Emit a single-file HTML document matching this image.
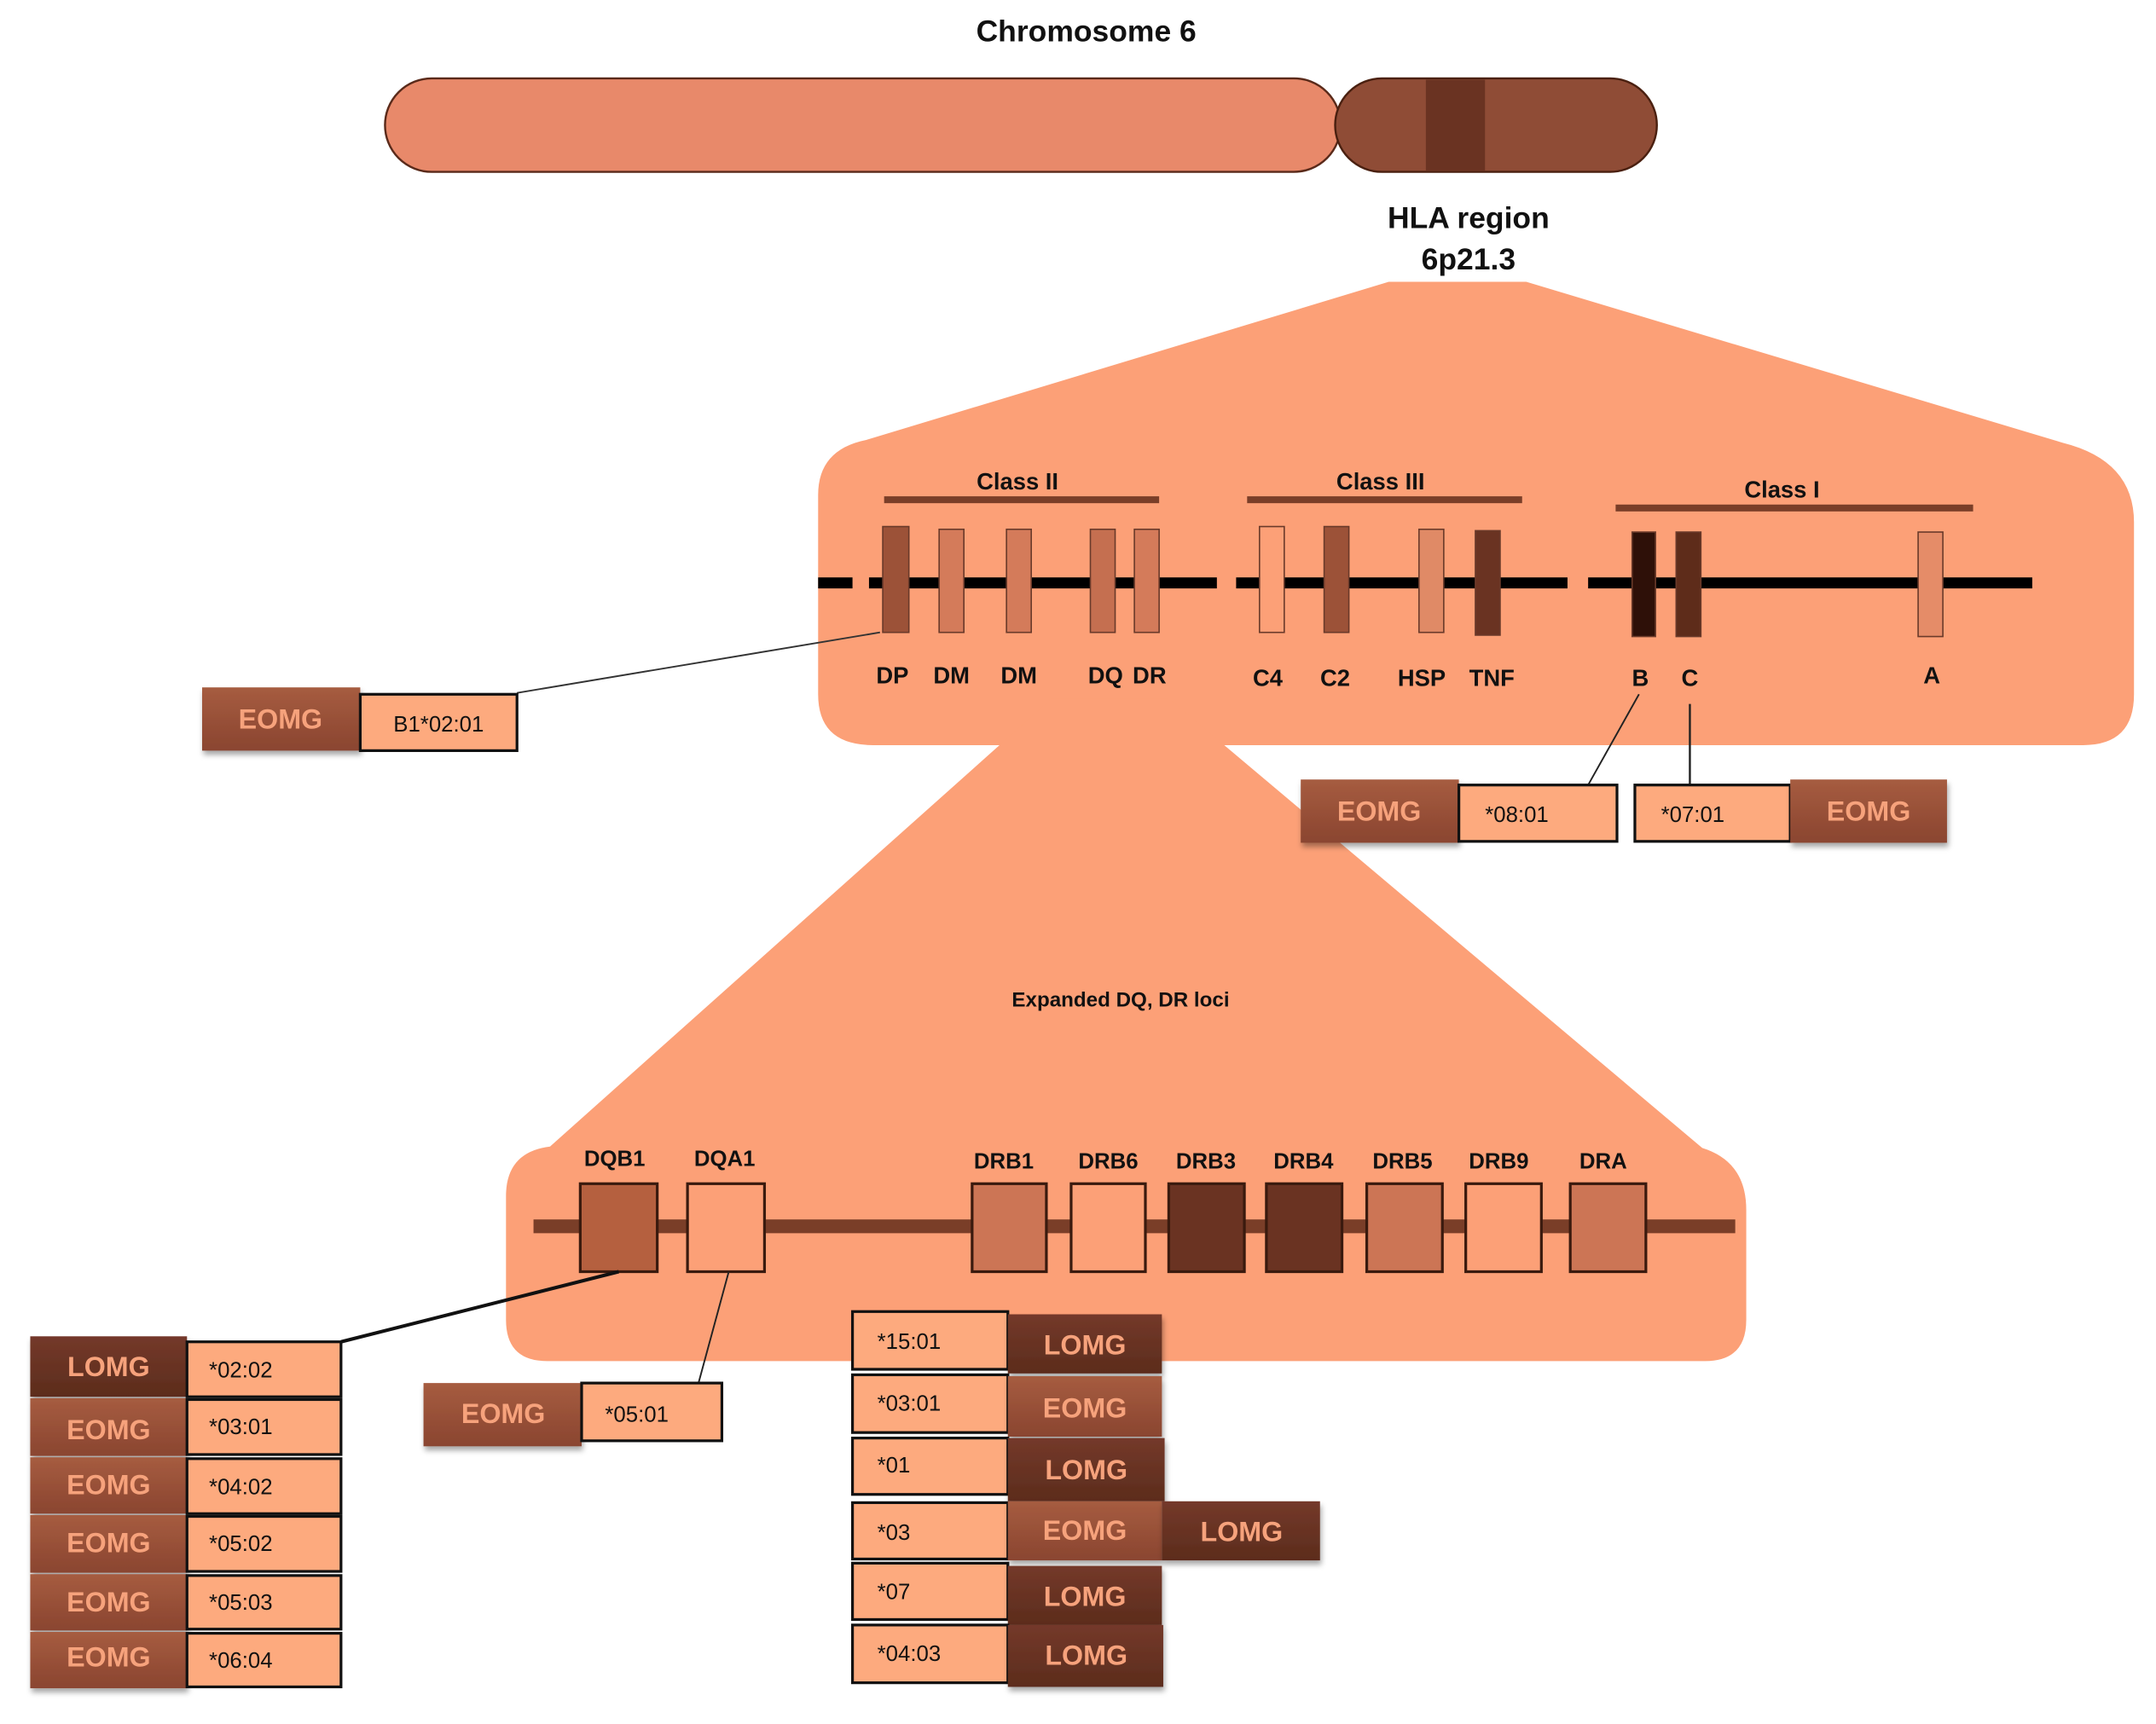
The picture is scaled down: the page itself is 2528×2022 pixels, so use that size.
<!DOCTYPE html>
<html><head><meta charset="utf-8"><style>
html,body{margin:0;padding:0;background:#fff;}
svg{display:block;}
text{font-family:"Liberation Sans",sans-serif;}
.lb{font-weight:bold;}
</style></head><body>
<svg width="2528" height="2022" viewBox="0 0 1568 1254" preserveAspectRatio="none" xmlns="http://www.w3.org/2000/svg">
<defs>
<linearGradient id="eo" x1="0" y1="0" x2="0" y2="1"><stop offset="0" stop-color="#A65C40"/><stop offset="1" stop-color="#8A4530"/></linearGradient>
<linearGradient id="lo" x1="0" y1="0" x2="0" y2="1"><stop offset="0" stop-color="#74392A"/><stop offset="1" stop-color="#5C2C1C"/></linearGradient>
<filter id="sh" x="-10%" y="-10%" width="130%" height="140%"><feDropShadow dx="1" dy="3" stdDeviation="2" flood-color="#000" flood-opacity="0.35"/></filter>
</defs>
<text x="790" y="30" font-size="22" font-weight="bold" text-anchor="middle" fill="#111">Chromosome 6</text>
<rect x="280" y="57" width="695" height="68" rx="34" fill="#E8896A" stroke="#5a2a1a" stroke-width="1.5"/>
<path d="M1005,57 H1171 A34,34 0 0 1 1171,125 H1005 A34,34 0 0 1 1005,57 Z" fill="#8F4C36" stroke="#4a2010" stroke-width="1.5"/>
<rect x="1037" y="58" width="43" height="66" fill="#6A3322"/>
<text x="1068" y="166" font-size="22" font-weight="bold" text-anchor="middle" fill="#111">HLA region</text>
<text x="1068" y="196" font-size="22" font-weight="bold" text-anchor="middle" fill="#111">6p21.3</text>

<path d="M1010,205 H1110 L1500,322 Q1552,335 1552,380 V505 Q1552,542 1515,542 H635 Q595,542 595,505 V360 Q595,327 630,320 Z" fill="#FCA077"/>
<g font-size="17" font-weight="bold" text-anchor="middle" fill="#111">
<text x="740" y="356">Class II</text><text x="1004" y="356">Class III</text><text x="1296" y="362">Class I</text>
</g>
<rect x="643" y="361" width="200" height="5" fill="#7A3E28"/>
<rect x="907" y="361" width="200" height="5" fill="#7A3E28"/>
<rect x="1175" y="367" width="260" height="5" fill="#7A3E28"/>
<g fill="#000"><rect x="595" y="420" width="25" height="8"/><rect x="632" y="420" width="253" height="8"/><rect x="899" y="420" width="241" height="8"/><rect x="1155" y="420" width="323" height="8"/></g>
<g stroke="#6a3a2a" stroke-width="1">
<rect x="642" y="383" width="19" height="77" fill="#9C5238"/>
<rect x="683" y="385" width="18" height="75" fill="#D47B5A"/>
<rect x="732" y="385" width="18" height="75" fill="#D47B5A"/>
<rect x="793" y="385" width="18" height="75" fill="#C56F50"/>
<rect x="825" y="385" width="18" height="75" fill="#D47B5A"/>
<rect x="916" y="383" width="18" height="77" fill="#FCA077"/>
<rect x="963" y="383" width="18" height="77" fill="#9C5238"/>
<rect x="1032" y="385" width="18" height="75" fill="#E08A66"/>
<rect x="1073" y="386" width="18" height="76" fill="#6A3322"/>
<rect x="1187" y="387" width="17" height="76" fill="#2E1008"/>
<rect x="1219" y="387" width="18" height="76" fill="#5E2C1A"/>
<rect x="1395" y="387" width="18" height="76" fill="#E58C68"/>
</g>
<g font-size="17" font-weight="bold" text-anchor="middle" fill="#111">
<text x="649" y="497">DP</text><text x="692" y="497">DM</text><text x="741" y="497">DM</text><text x="804" y="497">DQ</text><text x="836" y="497">DR</text>
<text x="922" y="499">C4</text><text x="971" y="499">C2</text><text x="1034" y="499">HSP</text><text x="1085" y="499">TNF</text>
<text x="1193" y="499">B</text><text x="1229" y="499">C</text><text x="1405" y="497">A</text>
</g>
<line x1="640" y1="460" x2="376" y2="504" stroke="#333" stroke-width="1.2"/>
<line x1="1192" y1="505" x2="1155" y2="571" stroke="#222" stroke-width="1.2"/>
<line x1="1229" y1="512" x2="1229" y2="571" stroke="#222" stroke-width="1.5"/>

<path d="M765,508 H850 L1238,835 Q1270,845 1270,880 V960 Q1270,990 1240,990 H398 Q368,990 368,960 V870 Q368,838 400,834 Z" fill="#FCA077"/>
<text x="815" y="732" font-size="15" font-weight="bold" text-anchor="middle" fill="#111">Expanded DQ, DR loci</text>
<rect x="388" y="887" width="874" height="10" fill="#7A3E28"/>
<g stroke="#3a1a0e" stroke-width="2">
<rect x="422" y="861" width="56" height="64" fill="#B5603F"/>
<rect x="500" y="861" width="56" height="64" fill="#FCA077"/>
<rect x="707" y="861" width="54" height="64" fill="#CC7555"/>
<rect x="779" y="861" width="54" height="64" fill="#FCA077"/>
<rect x="850" y="861" width="55" height="64" fill="#6A3322"/>
<rect x="921" y="861" width="55" height="64" fill="#6A3322"/>
<rect x="994" y="861" width="55" height="64" fill="#CC7555"/>
<rect x="1066" y="861" width="55" height="64" fill="#FCA077"/>
<rect x="1142" y="861" width="55" height="64" fill="#CC7555"/>
</g>
<g font-size="16" font-weight="bold" text-anchor="middle" fill="#111">
<text x="447" y="848">DQB1</text><text x="527" y="848">DQA1</text><text x="730" y="850">DRB1</text><text x="806" y="850">DRB6</text><text x="877" y="850">DRB3</text><text x="948" y="850">DRB4</text><text x="1020" y="850">DRB5</text><text x="1090" y="850">DRB9</text><text x="1166" y="850">DRA</text>
</g>
<line x1="450" y1="925" x2="248" y2="976" stroke="#111" stroke-width="2.5"/>
<line x1="530" y1="925" x2="508" y2="1006" stroke="#222" stroke-width="1.2"/>

<g font-size="16" fill="#111">
<rect x="147" y="500" width="115" height="46" fill="url(#eo)" filter="url(#sh)"/>
<rect x="262" y="505" width="114" height="41" fill="#FDAA7E" stroke="#111" stroke-width="2"/>
<text x="319" y="532" text-anchor="middle">B1*02:01</text>
<text class="lb" x="204" y="530" font-size="20" text-anchor="middle" fill="#F6A27C">EOMG</text>
<rect x="946" y="567" width="115" height="46" fill="url(#eo)" filter="url(#sh)"/>
<rect x="1061" y="571" width="115" height="41" fill="#FDAA7E" stroke="#111" stroke-width="2"/>
<text x="1080" y="598">*08:01</text>
<text class="lb" x="1003" y="597" font-size="20" text-anchor="middle" fill="#F6A27C">EOMG</text>
<rect x="1189" y="571" width="113" height="41" fill="#FDAA7E" stroke="#111" stroke-width="2"/>
<rect x="1302" y="567" width="114" height="46" fill="url(#eo)" filter="url(#sh)"/>
<text x="1208" y="598">*07:01</text>
<text class="lb" x="1359" y="597" font-size="20" text-anchor="middle" fill="#F6A27C">EOMG</text>
<rect x="308" y="1006" width="115" height="46" fill="url(#eo)" filter="url(#sh)"/>
<rect x="423" y="1006" width="102" height="42" fill="#FDAA7E" stroke="#111" stroke-width="2"/>
<text x="440" y="1034">*05:01</text>
<text class="lb" x="366" y="1035" font-size="20" text-anchor="middle" fill="#F6A27C">EOMG</text>
</g>

<g font-size="16" fill="#111">
<rect x="22" y="972" width="114" height="44" fill="url(#lo)" filter="url(#sh)"/>
<rect x="136" y="976" width="112" height="40" fill="#FDAA7E" stroke="#111" stroke-width="2"/>
<text x="152" y="1002">*02:02</text><text class="lb" x="79" y="1001" font-size="20" text-anchor="middle" fill="#F6A27C">LOMG</text>
<rect x="22" y="1017" width="114" height="42" fill="url(#eo)" filter="url(#sh)"/>
<rect x="136" y="1018" width="112" height="40" fill="#FDAA7E" stroke="#111" stroke-width="2"/>
<text x="152" y="1043">*03:01</text><text class="lb" x="79" y="1047" font-size="20" text-anchor="middle" fill="#F6A27C">EOMG</text>
<rect x="22" y="1060" width="114" height="41" fill="url(#eo)" filter="url(#sh)"/>
<rect x="136" y="1061" width="112" height="40" fill="#FDAA7E" stroke="#111" stroke-width="2"/>
<text x="152" y="1087">*04:02</text><text class="lb" x="79" y="1087" font-size="20" text-anchor="middle" fill="#F6A27C">EOMG</text>
<rect x="22" y="1102" width="114" height="42" fill="url(#eo)" filter="url(#sh)"/>
<rect x="136" y="1103" width="112" height="40" fill="#FDAA7E" stroke="#111" stroke-width="2"/>
<text x="152" y="1128">*05:02</text><text class="lb" x="79" y="1129" font-size="20" text-anchor="middle" fill="#F6A27C">EOMG</text>
<rect x="22" y="1145" width="114" height="41" fill="url(#eo)" filter="url(#sh)"/>
<rect x="136" y="1146" width="112" height="39" fill="#FDAA7E" stroke="#111" stroke-width="2"/>
<text x="152" y="1171">*05:03</text><text class="lb" x="79" y="1172" font-size="20" text-anchor="middle" fill="#F6A27C">EOMG</text>
<rect x="22" y="1187" width="114" height="41" fill="url(#eo)" filter="url(#sh)"/>
<rect x="136" y="1188" width="112" height="39" fill="#FDAA7E" stroke="#111" stroke-width="2"/>
<text x="152" y="1213">*06:04</text><text class="lb" x="79" y="1212" font-size="20" text-anchor="middle" fill="#F6A27C">EOMG</text>
</g>

<g font-size="16" fill="#111">
<rect x="620" y="954" width="113" height="42" fill="#FDAA7E" stroke="#111" stroke-width="2"/>
<rect x="733" y="956" width="112" height="43" fill="url(#lo)" filter="url(#sh)"/>
<text x="638" y="981">*15:01</text><text class="lb" x="789" y="985" font-size="20" text-anchor="middle" fill="#F6A27C">LOMG</text>
<rect x="620" y="1000" width="113" height="42" fill="#FDAA7E" stroke="#111" stroke-width="2"/>
<rect x="733" y="1001" width="112" height="44" fill="url(#eo)" filter="url(#sh)"/>
<text x="638" y="1026">*03:01</text><text class="lb" x="789" y="1031" font-size="20" text-anchor="middle" fill="#F6A27C">EOMG</text>
<rect x="620" y="1046" width="113" height="41" fill="#FDAA7E" stroke="#111" stroke-width="2"/>
<rect x="733" y="1046" width="114" height="46" fill="url(#lo)" filter="url(#sh)"/>
<text x="638" y="1071">*01</text><text class="lb" x="790" y="1076" font-size="20" text-anchor="middle" fill="#F6A27C">LOMG</text>
<rect x="620" y="1093" width="113" height="41" fill="#FDAA7E" stroke="#111" stroke-width="2"/>
<rect x="733" y="1092" width="112" height="43" fill="url(#eo)" filter="url(#sh)"/>
<rect x="845" y="1092" width="115" height="43" fill="url(#lo)" filter="url(#sh)"/>
<text x="638" y="1120">*03</text><text class="lb" x="789" y="1120" font-size="20" text-anchor="middle" fill="#F6A27C">EOMG</text><text class="lb" x="903" y="1121" font-size="20" text-anchor="middle" fill="#F6A27C">LOMG</text>
<rect x="620" y="1137" width="113" height="41" fill="#FDAA7E" stroke="#111" stroke-width="2"/>
<rect x="733" y="1139" width="112" height="43" fill="url(#lo)" filter="url(#sh)"/>
<text x="638" y="1163">*07</text><text class="lb" x="789" y="1168" font-size="20" text-anchor="middle" fill="#F6A27C">LOMG</text>
<rect x="620" y="1182" width="113" height="42" fill="#FDAA7E" stroke="#111" stroke-width="2"/>
<rect x="733" y="1182" width="113" height="45" fill="url(#lo)" filter="url(#sh)"/>
<text x="638" y="1208">*04:03</text><text class="lb" x="790" y="1211" font-size="20" text-anchor="middle" fill="#F6A27C">LOMG</text>
</g>
</svg>
</body></html>
